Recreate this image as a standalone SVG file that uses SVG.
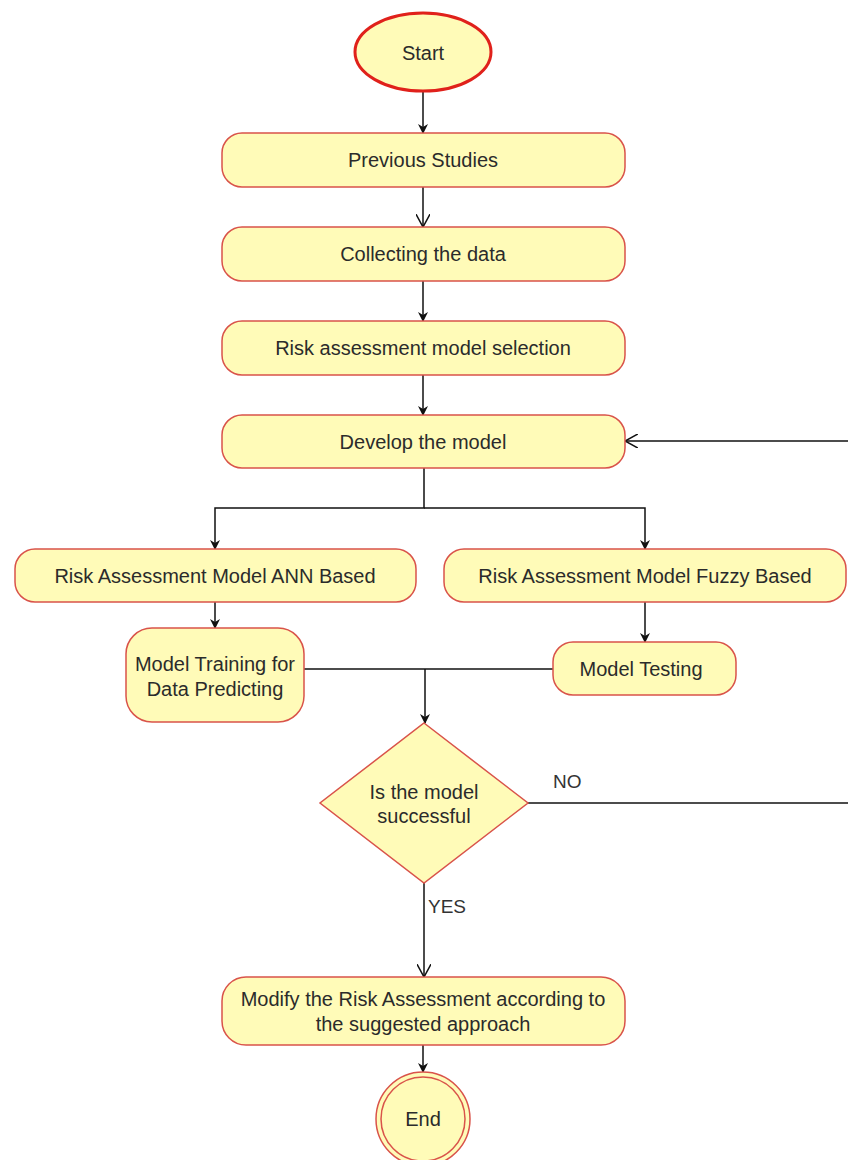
<svg xmlns="http://www.w3.org/2000/svg" width="848" height="1160" viewBox="0 0 848 1160">
<style>
.box{fill:#fffbb8;stroke:#d9534a;stroke-width:1.5}
.t{font-family:"Liberation Sans",Arial,sans-serif;font-size:20px;fill:#2b2b2b;text-anchor:middle;dominant-baseline:central}
.c{fill:none;stroke:#111;stroke-width:1.5}
.lbl{font-family:"Liberation Sans",Arial,sans-serif;font-size:19px;fill:#333}
</style>
<defs>
<marker id="fa" viewBox="0 0 10 10" refX="9" refY="5" markerWidth="10" markerHeight="10" markerUnits="userSpaceOnUse" orient="auto"><path d="M0,0 L10,5 L0,10 L3,5 Z" fill="#111"/></marker>
<marker id="oa" viewBox="0 0 12 12" refX="11" refY="6" markerWidth="14" markerHeight="14" markerUnits="userSpaceOnUse" orient="auto"><path d="M0,0 L11,6 L0,12" fill="none" stroke="#111" stroke-width="1.3"/></marker>
</defs>
<rect width="848" height="1160" fill="#fff"/>
<g id="connectors">
<line class="c" x1="423" y1="92" x2="423" y2="133" marker-end="url(#fa)"/>
<line class="c" x1="423" y1="187" x2="423" y2="227" marker-end="url(#oa)"/>
<line class="c" x1="423" y1="281" x2="423" y2="321" marker-end="url(#fa)"/>
<line class="c" x1="423" y1="375" x2="423" y2="415" marker-end="url(#fa)"/>
<polyline class="c" points="424,468 424,508 215,508 215,549" marker-end="url(#fa)"/>
<polyline class="c" points="424,508 645,508 645,549" marker-end="url(#fa)"/>
<line class="c" x1="215" y1="602" x2="215" y2="628" marker-end="url(#fa)"/>
<line class="c" x1="645" y1="602" x2="645" y2="642" marker-end="url(#fa)"/>
<line class="c" x1="304" y1="669" x2="553" y2="669"/>
<line class="c" x1="425" y1="669" x2="425" y2="723" stroke-width="2" marker-end="url(#fa)"/>
<polyline class="c" points="528,803 850,803"/>
<polyline class="c" points="850,441 625,441" marker-end="url(#oa)"/>
<line class="c" x1="424" y1="883" x2="424" y2="977" stroke="#444" marker-end="url(#oa)"/>
<line class="c" x1="423" y1="1045" x2="423" y2="1072" marker-end="url(#fa)"/>
<text class="lbl" x="553" y="788">NO</text>
<text class="lbl" x="428" y="913">YES</text>
</g>
<g id="start">
<ellipse cx="423" cy="52" rx="68" ry="39" fill="#fffbb8" stroke="#e0211b" stroke-width="3"/>
<text class="t" x="423" y="53">Start</text>
</g>
<g id="previous">
<rect class="box" x="222" y="133" width="403" height="54" rx="20"/>
<text class="t" x="423" y="160">Previous Studies</text>
</g>
<g id="collecting">
<rect class="box" x="222" y="227" width="403" height="54" rx="20"/>
<text class="t" x="423" y="254">Collecting the data</text>
</g>
<g id="selection">
<rect class="box" x="222" y="321" width="403" height="54" rx="20"/>
<text class="t" x="423" y="348">Risk assessment model selection</text>
</g>
<g id="develop">
<rect class="box" x="222" y="415" width="403" height="53" rx="20"/>
<text class="t" x="423" y="442">Develop the model</text>
</g>
<g id="ann">
<rect class="box" x="15" y="549" width="401" height="53" rx="20"/>
<text class="t" x="215" y="576">Risk Assessment Model ANN Based</text>
</g>
<g id="fuzzy">
<rect class="box" x="444" y="549" width="402" height="53" rx="20"/>
<text class="t" x="645" y="576">Risk Assessment Model Fuzzy Based</text>
</g>
<g id="training">
<rect class="box" x="126" y="628" width="178" height="94" rx="26"/>
<text class="t" x="215" y="664">Model Training for</text>
<text class="t" x="215" y="689">Data Predicting</text>
</g>
<g id="testing">
<rect class="box" x="553" y="642" width="183" height="53" rx="20"/>
<text class="t" x="641" y="669">Model Testing</text>
</g>
<g id="decision">
<polygon class="box" points="424,723 528,803 424,883 320,803"/>
<text class="t" x="424" y="792">Is the model</text>
<text class="t" x="424" y="816">successful</text>
</g>
<g id="modify">
<rect class="box" x="222" y="977" width="403" height="68" rx="24"/>
<text class="t" x="423" y="999">Modify the Risk Assessment according to</text>
<text class="t" x="423" y="1024">the suggested approach</text>
</g>
<g id="end">
<circle cx="423" cy="1119" r="47" fill="#fffbb8" stroke="#d9534a" stroke-width="1.5"/>
<circle cx="423" cy="1119" r="42" fill="#fffbb8" stroke="#d9534a" stroke-width="1.5"/>
<text class="t" x="423" y="1119">End</text>
</g>
</svg>
